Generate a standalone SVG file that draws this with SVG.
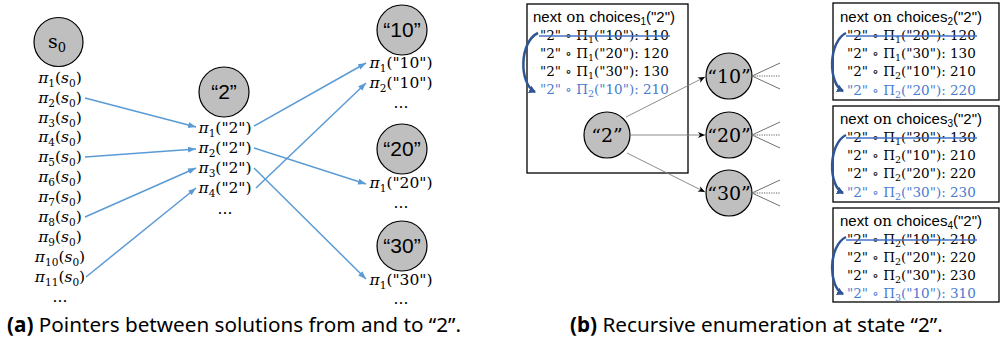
<svg xmlns="http://www.w3.org/2000/svg" width="1003" height="347" viewBox="0 0 1003 347">
<style>
.m{font-family:"DejaVu Serif",serif;font-size:15.5px;fill:#000}
.s{font-size:10.5px}
.b{font-family:"DejaVu Serif",serif;font-size:13.5px;fill:#000}
.bs{font-size:9.5px}
.h{font-family:"Liberation Sans",sans-serif;font-size:15px;fill:#000}
.hs{font-family:"DejaVu Serif",serif}
.hl{fill:#4a7bd0}
.node circle{fill:#bfbfbf;stroke:#000;stroke-width:1.2}
.lblA{font-family:"Liberation Sans",sans-serif;font-size:21px;fill:#000}
.lblB{font-family:"DejaVu Serif",serif;font-size:19px;fill:#000}
.box{fill:none;stroke:#000;stroke-width:1.3}
.ptr{stroke:#5b9bd5;stroke-width:1.5;fill:none;marker-end:url(#ab)}
.gr{stroke:#707070;stroke-width:1;fill:none}
.gra{stroke:#808080;stroke-width:0.9;fill:none;marker-end:url(#ag)}
.dot{stroke:#606060;stroke-width:1;stroke-dasharray:1.2 1.2;fill:none}
.strike{stroke:#4472c4;stroke-width:1.4}
.curv{stroke:#2f5597;stroke-width:2.5;fill:none;marker-end:url(#ac)}
.cap{font-family:"Noto Sans",sans-serif;font-size:20.7px;fill:#000}
</style>
<defs>
<marker id="ab" markerUnits="userSpaceOnUse" markerWidth="9" markerHeight="7" refX="8" refY="3" orient="auto"><path d="M0,0 L8,3 L0,6 z" fill="#5b9bd5"/></marker>
<marker id="ag" markerUnits="userSpaceOnUse" markerWidth="8" markerHeight="7" refX="7" refY="3" orient="auto"><path d="M0,0 L7,3 L0,6 L2,3 z" fill="#000"/></marker>
<marker id="ac" markerUnits="userSpaceOnUse" markerWidth="9" markerHeight="9" refX="6" refY="4" orient="auto"><path d="M0,0 L7,4 L0,8 z" fill="#2f5597"/></marker>
</defs>

<!-- Panel (a) -->
<g id="node-s0" class="node">
<circle cx="58.5" cy="42" r="24.5"/>
<text class="lblB" x="57" y="48" text-anchor="middle">s<tspan font-size="13" dy="4">0</tspan></text>
<g class="m" text-anchor="middle">
<text x="60" y="83"><tspan font-style="italic">π</tspan><tspan class="s" dy="4">1</tspan><tspan dy="-4">(</tspan><tspan font-style="italic">s</tspan><tspan class="s" dy="4">0</tspan><tspan dy="-4">)</tspan></text>
<text x="60" y="103"><tspan font-style="italic">π</tspan><tspan class="s" dy="4">2</tspan><tspan dy="-4">(</tspan><tspan font-style="italic">s</tspan><tspan class="s" dy="4">0</tspan><tspan dy="-4">)</tspan></text>
<text x="60" y="123"><tspan font-style="italic">π</tspan><tspan class="s" dy="4">3</tspan><tspan dy="-4">(</tspan><tspan font-style="italic">s</tspan><tspan class="s" dy="4">0</tspan><tspan dy="-4">)</tspan></text>
<text x="60" y="142"><tspan font-style="italic">π</tspan><tspan class="s" dy="4">4</tspan><tspan dy="-4">(</tspan><tspan font-style="italic">s</tspan><tspan class="s" dy="4">0</tspan><tspan dy="-4">)</tspan></text>
<text x="60" y="162"><tspan font-style="italic">π</tspan><tspan class="s" dy="4">5</tspan><tspan dy="-4">(</tspan><tspan font-style="italic">s</tspan><tspan class="s" dy="4">0</tspan><tspan dy="-4">)</tspan></text>
<text x="60" y="182"><tspan font-style="italic">π</tspan><tspan class="s" dy="4">6</tspan><tspan dy="-4">(</tspan><tspan font-style="italic">s</tspan><tspan class="s" dy="4">0</tspan><tspan dy="-4">)</tspan></text>
<text x="60" y="202"><tspan font-style="italic">π</tspan><tspan class="s" dy="4">7</tspan><tspan dy="-4">(</tspan><tspan font-style="italic">s</tspan><tspan class="s" dy="4">0</tspan><tspan dy="-4">)</tspan></text>
<text x="60" y="222"><tspan font-style="italic">π</tspan><tspan class="s" dy="4">8</tspan><tspan dy="-4">(</tspan><tspan font-style="italic">s</tspan><tspan class="s" dy="4">0</tspan><tspan dy="-4">)</tspan></text>
<text x="60" y="242"><tspan font-style="italic">π</tspan><tspan class="s" dy="4">9</tspan><tspan dy="-4">(</tspan><tspan font-style="italic">s</tspan><tspan class="s" dy="4">0</tspan><tspan dy="-4">)</tspan></text>
<text x="60" y="262"><tspan font-style="italic">π</tspan><tspan class="s" dy="4">10</tspan><tspan dy="-4">(</tspan><tspan font-style="italic">s</tspan><tspan class="s" dy="4">0</tspan><tspan dy="-4">)</tspan></text>
<text x="60" y="282"><tspan font-style="italic">π</tspan><tspan class="s" dy="4">11</tspan><tspan dy="-4">(</tspan><tspan font-style="italic">s</tspan><tspan class="s" dy="4">0</tspan><tspan dy="-4">)</tspan></text>
<text x="60" y="302">...</text>
</g>
</g>

<g id="node-2" class="node">
<circle cx="224" cy="92" r="25"/>
<text class="lblA" x="224" y="99" text-anchor="middle">“2”</text>
<g class="m" text-anchor="middle">
<text x="225" y="133"><tspan font-style="italic">π</tspan><tspan class="s" dy="4">1</tspan><tspan dy="-4">("2")</tspan></text>
<text x="225" y="153"><tspan font-style="italic">π</tspan><tspan class="s" dy="4">2</tspan><tspan dy="-4">("2")</tspan></text>
<text x="225" y="173"><tspan font-style="italic">π</tspan><tspan class="s" dy="4">3</tspan><tspan dy="-4">("2")</tspan></text>
<text x="225" y="193"><tspan font-style="italic">π</tspan><tspan class="s" dy="4">4</tspan><tspan dy="-4">("2")</tspan></text>
<text x="225" y="214">...</text>
</g>
</g>

<g id="node-10" class="node">
<circle cx="402" cy="30" r="25"/>
<text class="lblA" x="402" y="37" text-anchor="middle">“10”</text>
<g class="m" text-anchor="middle">
<text x="401" y="68"><tspan font-style="italic">π</tspan><tspan class="s" dy="4">1</tspan><tspan dy="-4">("10")</tspan></text>
<text x="401" y="88"><tspan font-style="italic">π</tspan><tspan class="s" dy="4">2</tspan><tspan dy="-4">("10")</tspan></text>
<text x="401" y="108">...</text>
</g>
</g>

<g id="node-20" class="node">
<circle cx="402" cy="149" r="25"/>
<text class="lblA" x="402" y="156" text-anchor="middle">“20”</text>
<g class="m" text-anchor="middle">
<text x="401" y="188"><tspan font-style="italic">π</tspan><tspan class="s" dy="4">1</tspan><tspan dy="-4">("20")</tspan></text>
<text x="401" y="208">...</text>
</g>
</g>

<g id="node-30" class="node">
<circle cx="402" cy="246" r="25"/>
<text class="lblA" x="402" y="253" text-anchor="middle">“30”</text>
<g class="m" text-anchor="middle">
<text x="401" y="285"><tspan font-style="italic">π</tspan><tspan class="s" dy="4">1</tspan><tspan dy="-4">("30")</tspan></text>
<text x="401" y="304">...</text>
</g>
</g>

<g id="connectors-a">
<line class="ptr" x1="85" y1="98" x2="196" y2="127"/>
<line class="ptr" x1="85" y1="157" x2="196" y2="149"/>
<line class="ptr" x1="85" y1="217" x2="196" y2="168"/>
<line class="ptr" x1="86" y1="277" x2="196" y2="188"/>
<line class="ptr" x1="254" y1="126" x2="366" y2="63"/>
<line class="ptr" x1="256" y1="188" x2="366" y2="83"/>
<line class="ptr" x1="254" y1="148" x2="366" y2="184"/>
<line class="ptr" x1="254" y1="168" x2="366" y2="279"/>
</g>

<!-- Panel (b) -->
<g id="box1">
<rect class="box" x="527" y="4" width="161" height="169"/>
<text class="h" x="533" y="22">next<tspan class="hs"> on </tspan>choices<tspan font-size="10" dy="3">1</tspan><tspan dy="-3">("2")</tspan></text>
<g class="b">
<text x="540" y="40">"2" ∘ Π<tspan class="bs" dy="3">1</tspan><tspan dy="-3">("10"): 110</tspan></text>
<text x="540" y="58">"2" ∘ Π<tspan class="bs" dy="3">1</tspan><tspan dy="-3">("20"): 120</tspan></text>
<text x="540" y="76">"2" ∘ Π<tspan class="bs" dy="3">1</tspan><tspan dy="-3">("30"): 130</tspan></text>
<text class="hl" x="540" y="94">"2" ∘ Π<tspan class="bs" dy="3">2</tspan><tspan dy="-3">("10"): 210</tspan></text>
</g>
<line class="strike" x1="539" y1="36" x2="670" y2="36"/>
<path class="curv" d="M538,33 C519,42 519,84 535,92"/>
</g>

<g id="box2">
<rect class="box" x="833" y="3" width="166" height="97"/>
<text class="h" x="840" y="22">next<tspan class="hs"> on </tspan>choices<tspan font-size="10" dy="3">2</tspan><tspan dy="-3">("2")</tspan></text>
<g class="b">
<text x="847" y="40">"2" ∘ Π<tspan class="bs" dy="3">1</tspan><tspan dy="-3">("20"): 120</tspan></text>
<text x="847" y="58">"2" ∘ Π<tspan class="bs" dy="3">1</tspan><tspan dy="-3">("30"): 130</tspan></text>
<text x="847" y="76">"2" ∘ Π<tspan class="bs" dy="3">2</tspan><tspan dy="-3">("10"): 210</tspan></text>
<text class="hl" x="847" y="95">"2" ∘ Π<tspan class="bs" dy="3">2</tspan><tspan dy="-3">("20"): 220</tspan></text>
</g>
<line class="strike" x1="846" y1="36" x2="977" y2="36"/>
<path class="curv" d="M846,33 C828,42 828,84 843,91"/>
</g>

<g id="box3">
<rect class="box" x="833" y="106" width="166" height="96"/>
<text class="h" x="840" y="124">next<tspan class="hs"> on </tspan>choices<tspan font-size="10" dy="3">3</tspan><tspan dy="-3">("2")</tspan></text>
<g class="b">
<text x="847" y="142">"2" ∘ Π<tspan class="bs" dy="3">1</tspan><tspan dy="-3">("30"): 130</tspan></text>
<text x="847" y="160">"2" ∘ Π<tspan class="bs" dy="3">2</tspan><tspan dy="-3">("10"): 210</tspan></text>
<text x="847" y="178">"2" ∘ Π<tspan class="bs" dy="3">2</tspan><tspan dy="-3">("20"): 220</tspan></text>
<text class="hl" x="847" y="197">"2" ∘ Π<tspan class="bs" dy="3">2</tspan><tspan dy="-3">("30"): 230</tspan></text>
</g>
<line class="strike" x1="846" y1="138" x2="977" y2="138"/>
<path class="curv" d="M846,135 C828,144 828,186 843,193"/>
</g>

<g id="box4">
<rect class="box" x="833" y="208" width="166" height="94"/>
<text class="h" x="840" y="226">next<tspan class="hs"> on </tspan>choices<tspan font-size="10" dy="3">4</tspan><tspan dy="-3">("2")</tspan></text>
<g class="b">
<text x="847" y="244">"2" ∘ Π<tspan class="bs" dy="3">2</tspan><tspan dy="-3">("10"): 210</tspan></text>
<text x="847" y="262">"2" ∘ Π<tspan class="bs" dy="3">2</tspan><tspan dy="-3">("20"): 220</tspan></text>
<text x="847" y="280">"2" ∘ Π<tspan class="bs" dy="3">2</tspan><tspan dy="-3">("30"): 230</tspan></text>
<text class="hl" x="847" y="298">"2" ∘ Π<tspan class="bs" dy="3">3</tspan><tspan dy="-3">("10"): 310</tspan></text>
</g>
<line class="strike" x1="846" y1="240" x2="977" y2="240"/>
<path class="curv" d="M846,237 C828,246 828,287 843,294"/>
</g>

<g id="b-node-2" class="node">
<circle cx="607" cy="135" r="23"/>
<text class="lblB" x="607" y="142" text-anchor="middle">“2”</text>
</g>
<g id="b-node-10" class="node">
<circle cx="729" cy="76" r="23"/>
<text class="lblB" x="729" y="83" text-anchor="middle">“10”</text>
</g>
<g id="b-node-20" class="node">
<circle cx="729" cy="135" r="23"/>
<text class="lblB" x="729" y="142" text-anchor="middle">“20”</text>
</g>
<g id="b-node-30" class="node">
<circle cx="729" cy="193" r="23"/>
<text class="lblB" x="729" y="200" text-anchor="middle">“30”</text>
</g>

<g id="connectors-b">
<line class="gra" x1="626" y1="117" x2="705" y2="77"/>
<line class="gra" x1="630" y1="135" x2="705" y2="135"/>
<line class="gra" x1="627" y1="153" x2="705" y2="192"/>
<line class="gr" x1="752" y1="76" x2="780" y2="63"/>
<line class="dot" x1="752" y1="76" x2="780" y2="76"/>
<line class="gr" x1="752" y1="76" x2="780" y2="89"/>
<line class="gr" x1="752" y1="135" x2="780" y2="122"/>
<line class="dot" x1="752" y1="135" x2="780" y2="135"/>
<line class="gr" x1="752" y1="135" x2="780" y2="148"/>
<line class="gr" x1="752" y1="193" x2="780" y2="180"/>
<line class="dot" x1="752" y1="193" x2="780" y2="193"/>
<line class="gr" x1="752" y1="193" x2="780" y2="206"/>
</g>

<g id="captions">
<text class="cap" x="7" y="332"><tspan font-weight="bold">(a)</tspan> Pointers between solutions from and to “2”.</text>
<text class="cap" x="570" y="332"><tspan font-weight="bold">(b)</tspan> Recursive enumeration at state “2”.</text>
</g>
</svg>
